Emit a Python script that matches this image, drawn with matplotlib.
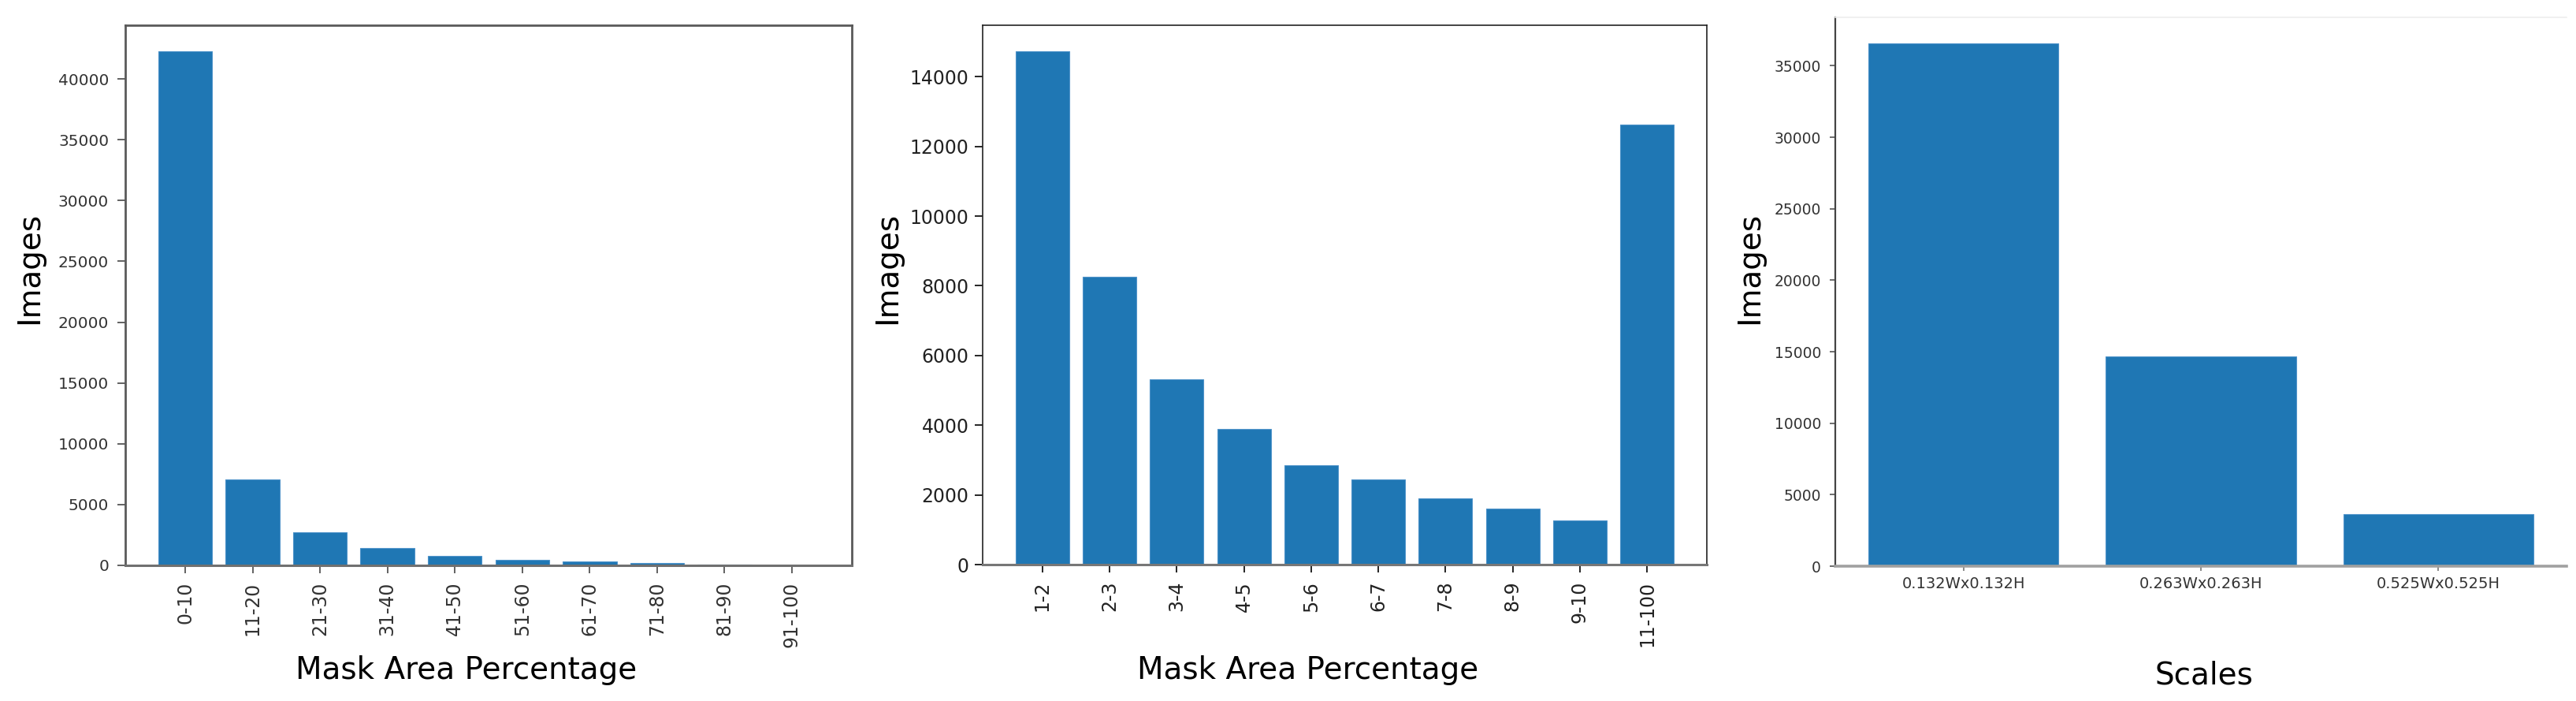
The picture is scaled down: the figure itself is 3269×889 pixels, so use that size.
import matplotlib.pyplot as plt

# panel 1: mask area in 10% bins
area_bins = ['0-10', '11-20', '21-30', '31-40', '41-50',
             '51-60', '61-70', '71-80', '81-90', '91-100']
area_counts = [42300, 7040, 2710, 1420, 770, 440, 330, 180, 40, 10]

# panel 2: finer bins
fine_bins = ['1-2', '2-3', '3-4', '4-5', '5-6', '6-7', '7-8', '8-9', '9-10', '11-100']
fine_counts = [14740, 8250, 5320, 3900, 2850, 2440, 1900, 1600, 1270, 12630]

# panel 3: scales
scales = ['0.132Wx0.132H', '0.263Wx0.263H', '0.525Wx0.525H']
scale_counts = [36560, 14680, 3620]

blue = '#1f77b4'

fig = plt.figure(figsize=(32.69, 8.89), dpi=100)
ax1 = fig.add_axes([0.04864, 0.19348, 0.28204, 0.77053])
ax2 = fig.add_axes([0.38146, 0.19460, 0.28112, 0.76940])
ax3 = fig.add_axes([0.71245, 0.19235, 0.28388, 0.78290])

# --- panel 1
ax1.bar(area_bins, area_counts, width=0.8, color=blue, edgecolor='#4f93c9', linewidth=0.8)
ax1.set_ylabel('Images', fontsize=28)
ax1.set_xlabel('Mask Area Percentage', fontsize=28)
ax1.yaxis.set_label_coords(-0.112, 0.550)
ax1.xaxis.set_label_coords(0.4696, -0.166)
ax1.tick_params(axis='y', length=7, width=1.3, pad=8, labelsize=14.5, labelcolor='#333333', color='#555555')
ax1.tick_params(axis='x', length=7, width=1.3, pad=8, labelsize=17, labelcolor='#333333', color='#555555',
                labelrotation=90)
for s in ['left', 'top', 'right']:
    ax1.spines[s].set_color('#5a5a5a')
    ax1.spines[s].set_linewidth(2)
ax1.spines['bottom'].set_color('#707070')
ax1.spines['bottom'].set_linewidth(2.2)

# --- panel 2
ax2.bar(fine_bins, fine_counts, width=0.8, color=blue, edgecolor='#4f93c9', linewidth=0.8)
ax2.set_ylabel('Images', fontsize=28)
ax2.set_xlabel('Mask Area Percentage', fontsize=28)
ax2.yaxis.set_label_coords(-0.111, 0.5497)
ax2.xaxis.set_label_coords(0.449, -0.168)
ax2.tick_params(axis='y', length=7, width=1.2, pad=5.5, labelsize=17, labelcolor='#222222')
ax2.tick_params(axis='x', length=7, width=1.2, pad=8, labelsize=17, labelcolor='#222222',
                labelrotation=90)
for s in ['left', 'top', 'right']:
    ax2.spines[s].set_color('#222222')
    ax2.spines[s].set_linewidth(1.2)
ax2.spines['bottom'].set_color('#777777')
ax2.spines['bottom'].set_linewidth(2.2)

# --- panel 3
ax3.bar(scales, scale_counts, width=0.8, color=blue, edgecolor='#4f93c9', linewidth=0.8)
ax3.set_ylabel('Images', fontsize=28)
ax3.set_xlabel('Scales', fontsize=28)
ax3.yaxis.set_label_coords(-0.097, 0.543)
ax3.xaxis.set_label_coords(0.504, -0.172)
ax3.tick_params(axis='y', length=5, width=1.2, pad=8, labelsize=13.5, labelcolor='#333333', color='#555555')
ax3.tick_params(axis='x', length=4.5, width=1.2, pad=5, labelsize=14, labelcolor='#333333', color='#777777')
ax3.spines['left'].set_color('#444444')
ax3.spines['left'].set_linewidth(1.6)
ax3.spines['bottom'].set_color('#a0a0a0')
ax3.spines['bottom'].set_linewidth(2.6)
ax3.spines['top'].set_color('#eeeeee')
ax3.spines['top'].set_linewidth(1.2)
ax3.spines['right'].set_visible(False)

fig.savefig('out.png', dpi=100)
